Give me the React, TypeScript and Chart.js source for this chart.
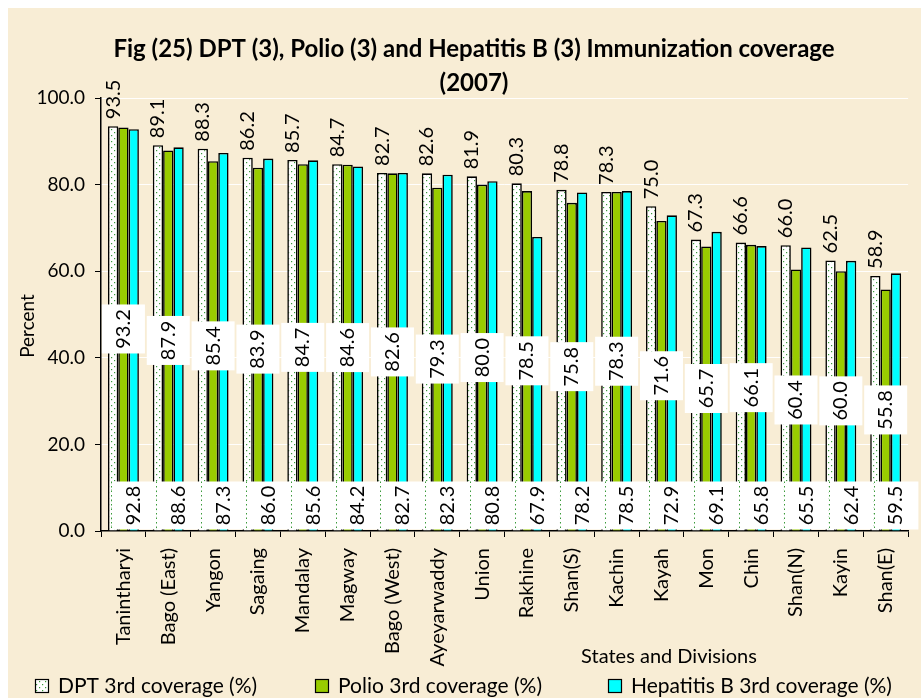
import React, { useEffect, useRef } from 'react';
import { Chart, registerables } from 'chart.js';

Chart.register(...registerables);

const categories = [
  'Tanintharyi', 'Bago (East)', 'Yangon', 'Sagaing', 'Mandalay', 'Magway',
  'Bago (West)', 'Ayeyarwaddy', 'Union', 'Rakhine', 'Shan(S)', 'Kachin',
  'Kayah', 'Mon', 'Chin', 'Shan(N)', 'Kayin', 'Shan(E)',
];
const dptValues = [93.5, 89.1, 88.3, 86.2, 85.7, 84.7, 82.7, 82.6, 81.9, 80.3, 78.8, 78.3, 75.0, 67.3, 66.6, 66.0, 62.5, 58.9];
const polioValues = [93.2, 87.9, 85.4, 83.9, 84.7, 84.6, 82.6, 79.3, 80.0, 78.5, 75.8, 78.3, 71.6, 65.7, 66.1, 60.4, 60.0, 55.8];
const hepBValues = [92.8, 88.6, 87.3, 86.0, 85.6, 84.2, 82.7, 82.3, 80.8, 67.9, 78.2, 78.5, 72.9, 69.1, 65.8, 65.5, 62.4, 59.5];
const seriesNames = ['DPT 3rd coverage (%)', 'Polio 3rd coverage (%)', 'Hepatitis B 3rd coverage (%)'];
const titleLines = ['Fig (25) DPT (3), Polio (3) and Hepatitis B (3) Immunization coverage', '(2007)'];
const xTitle = 'States and Divisions';
const yTitle = 'Percent';
const yMin = 0;
const yMax = 100;
const yStep = 20;

const FONT = 'Lato, "Open Sans", sans-serif';
const BG = '#f8edd5';
const POLIO_COLOR = '#99cc00';
const HEP_COLOR = '#00ffff';
const DOT_COLOR = '#3a9a3a';
const LEGEND_X = [27, 307, 600];

function makeDotPattern(): CanvasPattern | string {
  const c = document.createElement('canvas');
  c.width = 6;
  c.height = 6;
  const g = c.getContext('2d');
  if (!g) return '#ffffff';
  g.fillStyle = '#ffffff';
  g.fillRect(0, 0, 6, 6);
  g.fillStyle = DOT_COLOR;
  g.fillRect(1, 1, 1.2, 1.2);
  g.fillRect(4, 4, 1.2, 1.2);
  const p = g.createPattern(c, 'repeat');
  return p || '#ffffff';
}

function rotatedText(ctx: CanvasRenderingContext2D, text: string, x: number, y: number, align: CanvasTextAlign) {
  ctx.save();
  ctx.translate(x, y);
  ctx.rotate(-Math.PI / 2);
  ctx.textAlign = align;
  ctx.textBaseline = 'middle';
  ctx.fillText(text, 0, 0);
  ctx.restore();
}

const decorPlugin = {
  id: 'decor',
  beforeDraw(chart: any) {
    const { ctx, width, height } = chart;
    ctx.save();
    ctx.fillStyle = BG;
    ctx.fillRect(0, 0, width, height);
    ctx.restore();
  },
  afterDatasetsDraw(chart: any) {
    const ctx: CanvasRenderingContext2D = chart.ctx;
    const xs = chart.scales.x;
    const catW = (xs.right - xs.left) / categories.length;
    const labelFont = `20px ${FONT}`;
    ctx.save();
    ctx.font = labelFont;
    ctx.fillStyle = '#000';

    // DPT labels above the bars
    chart.getDatasetMeta(0).data.forEach((bar: any, i: number) => {
      const p = bar.getProps(['x', 'y', 'base'], true);
      rotatedText(ctx, dptValues[i].toFixed(1), p.x, p.y - 7, 'left');
    });

    // Polio labels in white boxes at bar middle
    chart.getDatasetMeta(1).data.forEach((bar: any, i: number) => {
      const p = bar.getProps(['x', 'y', 'base'], true);
      const cy = (p.y + p.base) / 2;
      const bw = 43;
      const bh = 49;
      ctx.fillStyle = '#ffffff';
      ctx.fillRect(p.x - bw / 2, cy - bh / 2, bw, bh);
      ctx.fillStyle = '#000';
      rotatedText(ctx, polioValues[i].toFixed(1), p.x, cy, 'center');
    });

    // Hepatitis B labels in white boxes at bar base
    chart.getDatasetMeta(2).data.forEach((bar: any, i: number) => {
      const p = bar.getProps(['x', 'y', 'base'], true);
      const bw = catW;
      const bh = 48;
      const top = p.base - 1 - bh;
      ctx.fillStyle = '#ffffff';
      ctx.fillRect(p.x - bw / 2, top, bw, bh);
      ctx.save();
      ctx.strokeStyle = DOT_COLOR;
      ctx.lineWidth = 1;
      ctx.setLineDash([1.5, 3]);
      ctx.beginPath();
      ctx.moveTo(Math.round(p.x - bw / 2) + 0.5, top);
      ctx.lineTo(Math.round(p.x - bw / 2) + 0.5, top + bh);
      ctx.stroke();
      ctx.restore();
      ctx.fillStyle = '#000';
      rotatedText(ctx, hepBValues[i].toFixed(1), p.x, top + bh / 2, 'center');
    });
    ctx.restore();
  },
  afterDraw(chart: any) {
    const ctx: CanvasRenderingContext2D = chart.ctx;
    ctx.save();
    ctx.fillStyle = '#000';
    // Title
    ctx.font = `bold 24px ${FONT}`;
    ctx.textAlign = 'center';
    ctx.textBaseline = 'alphabetic';
    ctx.fillText(titleLines[0], 466, 49);
    ctx.fillText(titleLines[1], 466, 83);

    // Axis titles
    ctx.font = `19px ${FONT}`;
    rotatedText(ctx, yTitle, 20, 318, 'center');
    ctx.font = `20px ${FONT}`;
    ctx.textAlign = 'center';
    ctx.textBaseline = 'middle';
    ctx.fillText(xTitle, 661, 649);

    // Legend
    ctx.font = `21px ${FONT}`;
    ctx.textAlign = 'left';
    ctx.textBaseline = 'middle';
    const ly = 678;
    const box = 14;
    chart.data.datasets.forEach((ds: any, i: number) => {
      const x = LEGEND_X[i];
      ctx.fillStyle = ds.backgroundColor;
      ctx.fillRect(x, ly - box / 2, box, box);
      ctx.strokeStyle = '#000';
      ctx.lineWidth = 1.2;
      ctx.strokeRect(x + 0.5, ly - box / 2 + 0.5, box - 1, box - 1);
      ctx.fillStyle = '#000';
      ctx.fillText(ds.label, x + box + 9, ly);
    });
    ctx.restore();
  },
};

export default function App() {
  const canvasRef = useRef<HTMLCanvasElement | null>(null);

  useEffect(() => {
    const canvas = canvasRef.current;
    if (!canvas) return;
    const pattern = makeDotPattern();
    const chart = new Chart(canvas, {
      type: 'bar',
      data: {
        labels: categories,
        datasets: [
          { label: seriesNames[0], data: dptValues, backgroundColor: pattern as any, borderColor: '#000', borderWidth: 1.6 },
          { label: seriesNames[1], data: polioValues, backgroundColor: POLIO_COLOR, borderColor: '#000', borderWidth: 1.6 },
          { label: seriesNames[2], data: hepBValues, backgroundColor: HEP_COLOR, borderColor: '#000', borderWidth: 1.6 },
        ],
      },
      options: {
        responsive: false,
        animation: false,
        devicePixelRatio: 1,
        layout: { padding: { top: 90, right: 12, left: 0, bottom: 0 } },
        datasets: { bar: { categoryPercentage: 0.69, barPercentage: 1.0 } },
        plugins: {
          legend: { display: false },
          title: { display: false },
          tooltip: { enabled: false },
        },
        scales: {
          x: {
            offset: true,
            grid: { display: true, drawOnChartArea: false, drawTicks: true, tickLength: 6, tickColor: '#000', offset: true },
            border: { color: '#000', width: 1.5 },
            ticks: {
              autoSkip: false,
              maxRotation: 90,
              minRotation: 90,
              padding: 11,
              color: '#000',
              font: { family: FONT, size: 20 },
            },
            afterFit: (s: any) => { s.height = 167; },
          },
          y: {
            min: yMin,
            max: yMax,
            ticks: {
              stepSize: yStep,
              padding: 10,
              color: '#000',
              font: { family: FONT, size: 19 },
              callback: (v: any) => Number(v).toFixed(1),
            },
            grid: {
              color: (c: any) => (c.tick && c.tick.value === 0 ? 'rgba(0,0,0,0)' : 'rgba(255,255,255,0.95)'),
              tickColor: '#000',
              tickLength: 6,
              lineWidth: 1,
            },
            border: { color: '#000', width: 1.5 },
            afterFit: (s: any) => { s.width = 93; },
          },
        },
      },
      plugins: [decorPlugin],
    });
    return () => chart.destroy();
  }, []);

  return (
    <div style={{ position: 'fixed', left: 8, top: 8, width: 913, height: 690 }}>
      <canvas ref={canvasRef} width={913} height={690} style={{ display: 'block', width: 913, height: 690 }} />
    </div>
  );
}
